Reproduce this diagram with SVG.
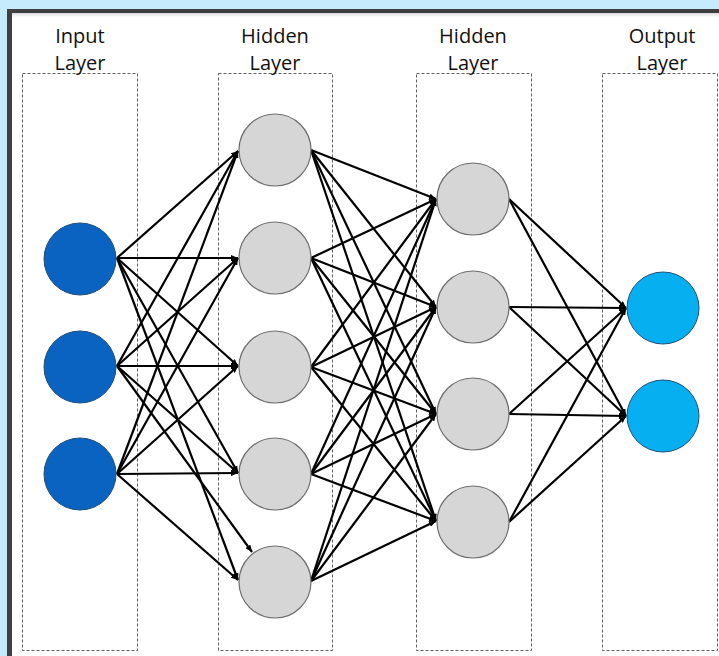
<svg xmlns="http://www.w3.org/2000/svg" width="719" height="656" viewBox="0 0 719 656">
  <defs>
    <marker id="arrow" markerUnits="userSpaceOnUse" markerWidth="7" markerHeight="6" refX="7" refY="3" orient="auto">
      <path d="M0,0 L7,3 L0,6 z" fill="#000"/>
    </marker>
    <linearGradient id="topShade" x1="0" y1="0" x2="0" y2="1">
      <stop offset="0" stop-color="#d8d8d8"/>
      <stop offset="1" stop-color="#ffffff"/>
    </linearGradient>
  </defs>
  <style>
    .layer-box { fill: none; stroke: #5e5e5e; stroke-width: 1; stroke-dasharray: 3 2; }
    .label { font-family: "Open Sans", "Liberation Sans", sans-serif; font-size: 20px; fill: #111; text-anchor: middle; }
    .in { fill: #0a63c0; stroke: #1f4e79; stroke-width: 1; }
    .hid { fill: #d6d6d6; stroke: #6e6e6e; stroke-width: 1.2; }
    .out { fill: #06b0f0; stroke: #1f4e79; stroke-width: 1; }
    #connectors line { stroke: #000; stroke-width: 2.2; marker-end: url(#arrow); }
  </style>

  <!-- frame -->
  <rect x="0" y="0" width="719" height="656" fill="#c6ebfd"/>
  <rect x="7" y="9" width="712" height="647" fill="#3f3f3f"/>
  <rect x="12" y="13" width="707" height="643" fill="#ffffff"/>
  <rect x="12" y="13" width="707" height="4" fill="url(#topShade)"/>

  <!-- layer columns -->
  <g id="layer-boxes">
    <rect class="layer-box" x="22.5" y="73.5" width="115" height="577"/>
    <rect class="layer-box" x="218.5" y="73.5" width="114" height="577"/>
    <rect class="layer-box" x="416.5" y="73.5" width="115" height="577"/>
    <rect class="layer-box" x="602.5" y="73.5" width="115" height="577"/>
  </g>

  <!-- layer titles -->
  <g id="titles">
    <text class="label" x="80" y="43">Input</text>
    <text class="label" x="80" y="70">Layer</text>
    <text class="label" x="275" y="43">Hidden</text>
    <text class="label" x="275" y="70">Layer</text>
    <text class="label" x="473" y="43">Hidden</text>
    <text class="label" x="473" y="70">Layer</text>
    <text class="label" x="662" y="43">Output</text>
    <text class="label" x="662" y="70">Layer</text>
  </g>

  <!-- connectors -->
  <g id="connectors">
    <!-- input -> hidden 1 -->
    <line x1="117" y1="258" x2="238" y2="151"/>
    <line x1="117" y1="258" x2="238" y2="258"/>
    <line x1="117" y1="258" x2="238" y2="366"/>
    <line x1="117" y1="258" x2="238" y2="473"/>
    <line x1="117" y1="258" x2="238" y2="580"/>
    <line x1="117" y1="366" x2="238" y2="151"/>
    <line x1="117" y1="366" x2="238" y2="258"/>
    <line x1="117" y1="366" x2="238" y2="366"/>
    <line x1="117" y1="366" x2="238" y2="473"/>
    <line x1="117" y1="366" x2="252" y2="552"/>
    <line x1="117" y1="474" x2="238" y2="151"/>
    <line x1="117" y1="474" x2="238" y2="258"/>
    <line x1="117" y1="474" x2="238" y2="366"/>
    <line x1="117" y1="474" x2="238" y2="473"/>
    <line x1="117" y1="474" x2="238" y2="580"/>
    <!-- hidden 1 -> hidden 2 -->
    <line x1="311" y1="150" x2="436" y2="199"/>
    <line x1="311" y1="150" x2="436" y2="307"/>
    <line x1="311" y1="150" x2="436" y2="414"/>
    <line x1="311" y1="150" x2="436" y2="521"/>
    <line x1="311" y1="258" x2="436" y2="199"/>
    <line x1="311" y1="258" x2="436" y2="307"/>
    <line x1="311" y1="258" x2="436" y2="414"/>
    <line x1="311" y1="258" x2="436" y2="521"/>
    <line x1="311" y1="367" x2="436" y2="199"/>
    <line x1="311" y1="367" x2="436" y2="307"/>
    <line x1="311" y1="367" x2="436" y2="414"/>
    <line x1="311" y1="367" x2="436" y2="521"/>
    <line x1="311" y1="474" x2="436" y2="199"/>
    <line x1="311" y1="474" x2="436" y2="307"/>
    <line x1="311" y1="474" x2="436" y2="414"/>
    <line x1="311" y1="474" x2="436" y2="521"/>
    <line x1="311" y1="581" x2="436" y2="199"/>
    <line x1="311" y1="581" x2="436" y2="307"/>
    <line x1="311" y1="581" x2="436" y2="414"/>
    <line x1="311" y1="581" x2="436" y2="521"/>
    <!-- hidden 2 -> output -->
    <line x1="509" y1="199" x2="626" y2="308"/>
    <line x1="509" y1="199" x2="626" y2="416"/>
    <line x1="509" y1="307" x2="626" y2="308"/>
    <line x1="509" y1="307" x2="626" y2="416"/>
    <line x1="509" y1="414" x2="626" y2="308"/>
    <line x1="509" y1="414" x2="626" y2="416"/>
    <line x1="509" y1="522" x2="626" y2="308"/>
    <line x1="509" y1="522" x2="626" y2="416"/>
  </g>

  <!-- input layer -->
  <g id="in1"><circle class="in" cx="80" cy="259" r="36"/></g>
  <g id="in2"><circle class="in" cx="80" cy="367" r="36"/></g>
  <g id="in3"><circle class="in" cx="80" cy="474" r="36"/></g>

  <!-- first hidden layer -->
  <g id="h1-1"><circle class="hid" cx="275" cy="150" r="36"/></g>
  <g id="h1-2"><circle class="hid" cx="275" cy="258" r="36"/></g>
  <g id="h1-3"><circle class="hid" cx="275" cy="367" r="36"/></g>
  <g id="h1-4"><circle class="hid" cx="275" cy="474" r="36"/></g>
  <g id="h1-5"><circle class="hid" cx="275" cy="582" r="36"/></g>

  <!-- second hidden layer -->
  <g id="h2-1"><circle class="hid" cx="473" cy="199" r="36"/></g>
  <g id="h2-2"><circle class="hid" cx="473" cy="307" r="36"/></g>
  <g id="h2-3"><circle class="hid" cx="473" cy="414" r="36"/></g>
  <g id="h2-4"><circle class="hid" cx="473" cy="522" r="36"/></g>

  <!-- output layer -->
  <g id="out1"><circle class="out" cx="663" cy="308" r="36"/></g>
  <g id="out2"><circle class="out" cx="663" cy="416" r="36"/></g>
</svg>
